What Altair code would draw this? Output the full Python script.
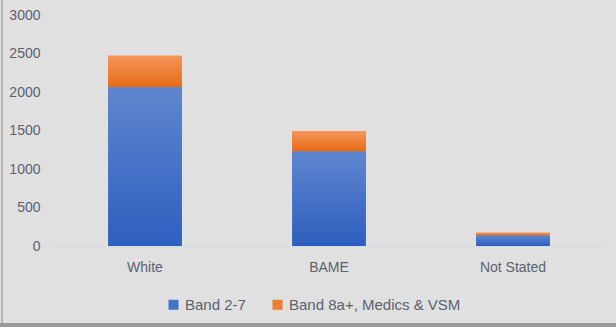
import altair as alt
import pandas as pd

categories = ["White", "BAME", "Not Stated"]
band_2_7 = [2065, 1230, 140]
band_8a_medics_vsm = [405, 264, 33]
series_names = ["Band 2-7", "Band 8a+, Medics & VSM"]
y_ticks = [0, 500, 1000, 1500, 2000, 2500, 3000]

df = pd.DataFrame({
    "category": categories,
    "b27": band_2_7,
    "b8": band_8a_medics_vsm,
})
df["top"] = df["b27"] + df["b8"]

LABEL = "#5a6270"
FONT = "Liberation Sans"

xenc = alt.X("category:N", sort=categories, title=None,
             scale=alt.Scale(paddingInner=0.6, paddingOuter=0.3),
             axis=alt.Axis(labelAngle=0, ticks=False, domainColor="#d3d9e0",
                           labelPadding=14, labelFontSize=14, labelColor=LABEL,
                           labelFont=FONT))
yscale = alt.Scale(domain=[0, 3000])
yaxis = alt.Axis(values=y_ticks, format="d", ticks=False, domain=False, grid=False,
                 labelPadding=13, labelFontSize=14, labelColor=LABEL, labelFont=FONT)

color_scale = alt.Scale(domain=series_names, range=["#4472c4", "#ed7d31"])
legend = alt.Legend(title=None, orient="none", legendX=113, legendY=282,
                    direction="horizontal", symbolType="square", symbolSize=100,
                    symbolStrokeWidth=0, labelFontSize=15, labelColor=LABEL,
                    labelFont=FONT, columnPadding=24, labelOffset=4, padding=0,
                    labelLimit=400)

base = alt.Chart(df)

solid_blue = base.mark_bar().encode(
    x=xenc,
    y=alt.Y("b27:Q", scale=yscale, axis=yaxis, title=None),
    color=alt.Color("s:N", scale=color_scale, legend=legend),
).transform_calculate(s="'" + series_names[0] + "'")

solid_orange = base.mark_bar().encode(
    x=xenc,
    y=alt.Y("b27:Q", scale=yscale, axis=yaxis, title=None),
    y2="top:Q",
    color=alt.Color("s:N", scale=color_scale, legend=legend),
).transform_calculate(s="'" + series_names[1] + "'")

blue_grad = alt.Gradient(gradient="linear", x1=0, y1=0, x2=0, y2=1,
                         stops=[alt.GradientStop(color="#5e86cf", offset=0),
                                alt.GradientStop(color="#2e5fbf", offset=1)])
orange_grad = alt.Gradient(gradient="linear", x1=0, y1=0, x2=0, y2=1,
                           stops=[alt.GradientStop(color="#f5965a", offset=0),
                                  alt.GradientStop(color="#e76a16", offset=1)])

grad_blue = base.mark_bar(fill=blue_grad).encode(
    x=xenc,
    y=alt.Y("b27:Q", scale=yscale, axis=yaxis, title=None),
)
grad_orange = base.mark_bar(fill=orange_grad).encode(
    x=xenc,
    y=alt.Y("b27:Q", scale=yscale, axis=yaxis, title=None),
    y2="top:Q",
)

left_border = alt.Chart(df).mark_rule(color="#b4b4b4", strokeWidth=2).encode(
    x=alt.value(-51), y=alt.value(-15), y2=alt.value(312))
bottom_border = alt.Chart(df).mark_rule(color="#9a9a9a", strokeWidth=4).encode(
    x=alt.value(-53), x2=alt.value(563), y=alt.value(310))

chart = alt.layer(solid_blue, solid_orange, grad_blue, grad_orange,
                  left_border, bottom_border).properties(
    width=552, height=231,
    background="#e0e0e0",
    padding={"left": 53, "top": 15, "right": 11, "bottom": 81},
    autosize=alt.AutoSizeParams(type="none"),
).configure_view(stroke=None)

chart.save("out.html", embed_options={"renderer": "svg", "actions": False})
